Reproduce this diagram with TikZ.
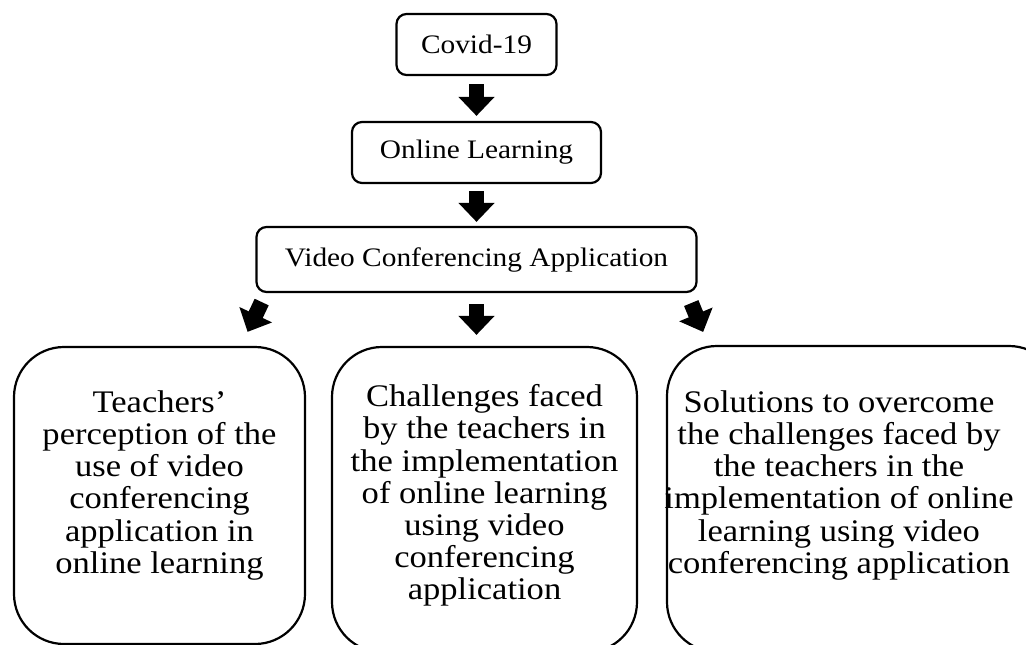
\documentclass[tikz,border=0pt]{standalone}
\usepackage{fontspec}
\setmainfont[FakeStretch=1.1]{Liberation Serif}
\usetikzlibrary{arrows.meta}
\begin{document}
\begin{tikzpicture}[x=1pt,y=-1pt,line width=2.2pt,
	topbox/.style={draw, rounded corners=10pt, font=\fontsize{26.7}{31}\selectfont},
	bigbox/.style={draw, rounded corners=50pt},
	boxtext/.style={align=center, anchor=north, inner sep=0pt, outer sep=0pt, font=\fontsize{31.4}{32.2}\selectfont},
	blockarrow/.style={line width=15.5pt, -{Triangle[width=35pt,length=19pt]}}]
	\useasboundingbox (0,0) rectangle (1026,645);
	\clip (0,0) rectangle (1026,645);
	\node (C) at (476.5,  44.5)	[topbox, minimum width=160pt, minimum height=61pt]	{Covid-19};
	\node (O) at (476.5, 152.5)	[topbox, minimum width=249pt, minimum height=61pt]	{Online Learning};
	\node (V) at (476.5, 259.5)	[topbox, minimum width=440pt, minimum height=65pt]	{Video Conferencing Application};
	\node (P) at (159.5, 495.5)	[bigbox, minimum width=291pt, minimum height=297pt]	{};
	\node (M) at (484.5, 499.5)	[bigbox, minimum width=305pt, minimum height=305pt]	{};
	\node (S) at (863.0, 499.0)	[bigbox, minimum width=392pt, minimum height=306pt]	{};
	\node (Ptext) at (159.5, 390.5)	[boxtext]	{Teachers’\\perception of the\\use of video\\conferencing\\application in\\online learning};
	\node (Mtext) at (484.5, 384.5)	[boxtext]	{Challenges faced\\by the teachers in\\the implementation\\of online learning\\using video\\conferencing\\application};
	\node (Stext) at (839.0, 390.5)	[boxtext]	{Solutions to overcome\\the challenges faced by\\the teachers in the\\implementation of online\\learning using video\\conferencing application};
	\draw[blockarrow, shorten <=8pt, shorten >=5pt] (C) -- (O);
	\draw[blockarrow, shorten <=7pt, shorten >=4pt] (O) -- (V);
	\draw[blockarrow, shorten <=9.9pt, shorten >=15.5pt] ([xshift=10.5pt]V.south west) -- ([xshift=81.5pt]P.north);
	\draw[blockarrow, shorten <=11pt, shorten >=11pt] (V.south) -- (V.south |- M.north);
	\draw[blockarrow, shorten <=10.8pt, shorten >=14pt] ([xshift=-10.5pt]V.south east) -- ([xshift=-154.5pt]S.north);
\end{tikzpicture}
\end{document}
